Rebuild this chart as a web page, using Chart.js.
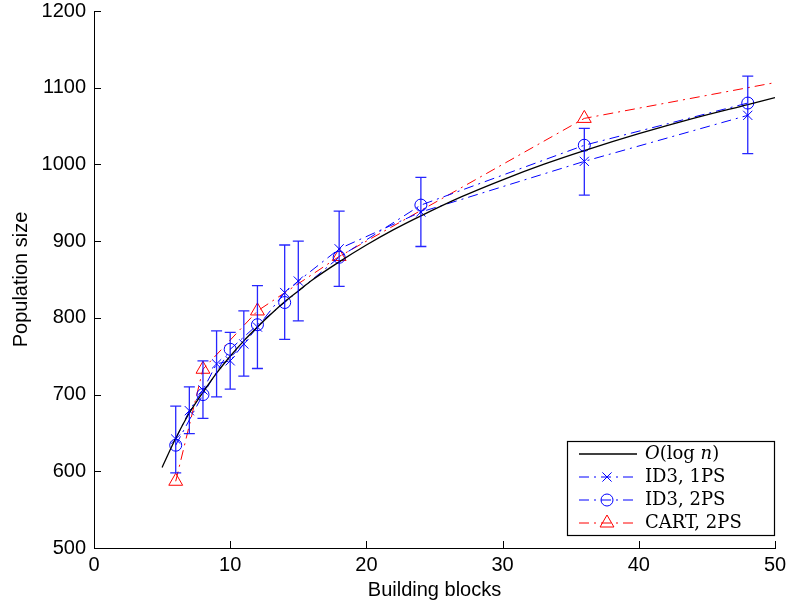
<!DOCTYPE html>
<html>
<head>
<meta charset="utf-8">
<script src="https://cdn.jsdelivr.net/npm/chart.js@4.4.0/dist/chart.umd.min.js"></script>
<style>
  html, body { margin: 0; padding: 0; background: #fff; }
  #wrap { width: 789px; height: 608px; }
</style>
</head>
<body>
<div id="wrap"><canvas id="myChart" width="789" height="608"></canvas></div>
<script>
// O(log n) reference curve
let logN   = [5, 6, 7, 8, 9, 10, 11, 12, 13, 14, 15, 16, 18, 20, 22, 24, 27, 30, 33, 36, 40, 44, 48, 50];
let logVal = [605, 643, 676, 703, 728, 750, 770, 788, 805, 821, 835, 849, 873, 895, 915, 933, 958, 980, 1000, 1018, 1040, 1060, 1078, 1087];

// ID3, 1PS with error bars
let id3oneN    = [6, 7, 8, 9, 10, 11, 12, 14, 15, 18, 24, 36, 48];
let id3oneVal  = [642, 679, 706, 740, 744, 766, 788, 833, 848, 890, 938, 1004, 1064];
let id3oneLow  = [598, 649, 669, 697, 707, 724, 734, 772, 796, 841, 893, 960, 1014];
let id3oneHigh = [685, 710, 744, 783, 781, 809, 842, 895, 900, 939, 983, 1047, 1115];

// ID3, 2PS
let id3twoN   = [6, 8, 10, 12, 14, 18, 24, 36, 48];
let id3twoVal = [634, 700, 759, 791, 820, 879, 947, 1025, 1080];

// CART, 2PS (last point lies past the right edge)
let cartN   = [6, 8, 12, 18, 36, 60];
let cartVal = [587, 733, 809, 880, 1060, 1140];

let xTicks = [0, 10, 20, 30, 40, 50];
let yTicks = [500, 600, 700, 800, 900, 1000, 1100, 1200];

let legendNames = ['O(log n)', 'ID3, 1PS', 'ID3, 2PS', 'CART, 2PS'];

const sans = 'Liberation Sans, Arial, sans-serif';
const serif = 'DejaVu Serif, serif';
const dashDot = [10, 5, 2, 5];

const toXY = (xs, ys) => xs.map((v, i) => ({x: v, y: ys[i]}));

function drawMarker(ctx, style, x, y, r) {
  ctx.beginPath();
  if (style === 'circle') {
    ctx.arc(x, y, r, 0, Math.PI * 2);
  } else if (style === 'crossRot') {
    const d = r * Math.SQRT1_2;
    ctx.moveTo(x - d, y - d); ctx.lineTo(x + d, y + d);
    ctx.moveTo(x - d, y + d); ctx.lineTo(x + d, y - d);
  } else if (style === 'triangle') {
    ctx.moveTo(x, y - r);
    ctx.lineTo(x + r * 0.866, y + r / 2);
    ctx.lineTo(x - r * 0.866, y + r / 2);
    ctx.closePath();
  }
  ctx.stroke();
}

const extras = {
  id: 'extras',
  afterDatasetsDraw(chart) {
    const {ctx, chartArea: a, scales: {x, y}} = chart;
    // error bars of ID3, 1PS
    ctx.save();
    ctx.beginPath();
    ctx.rect(a.left, a.top, a.right - a.left, a.bottom - a.top);
    ctx.clip();
    ctx.strokeStyle = 'rgba(0,0,255,0.85)';
    ctx.lineWidth = 1.3;
    id3oneN.forEach((n, i) => {
      const px = x.getPixelForValue(n);
      const lo = y.getPixelForValue(id3oneLow[i]);
      const hi = y.getPixelForValue(id3oneHigh[i]);
      ctx.beginPath();
      ctx.moveTo(px, lo); ctx.lineTo(px, hi);
      ctx.moveTo(px - 5.5, lo); ctx.lineTo(px + 5.5, lo);
      ctx.moveTo(px - 5.5, hi); ctx.lineTo(px + 5.5, hi);
      ctx.stroke();
    });
    ctx.restore();
  },
  afterDraw(chart) {
    const {ctx, chartArea: a, scales: {x, y}} = chart;
    ctx.save();
    // inward tick marks
    ctx.strokeStyle = '#000';
    ctx.lineWidth = 1;
    ctx.beginPath();
    xTicks.forEach(v => {
      const px = Math.round(x.getPixelForValue(v)) + 0.5;
      ctx.moveTo(px, a.bottom); ctx.lineTo(px, a.bottom - 7);
    });
    yTicks.forEach(v => {
      const py = Math.round(y.getPixelForValue(v)) + 0.5;
      ctx.moveTo(a.left, py); ctx.lineTo(a.left + 7, py);
    });
    ctx.stroke();

    // legend box
    const bx = a.right - 208, by = a.bottom - 107, bw = 207, bh = 94;
    ctx.fillStyle = '#fff';
    ctx.fillRect(bx, by, bw, bh);
    ctx.strokeStyle = '#000';
    ctx.lineWidth = 1.2;
    ctx.strokeRect(bx + 0.5, by + 0.5, bw, bh);

    const ds = chart.data.datasets;
    const rows = [ds[0], ds[1], ds[2], ds[3]];
    rows.forEach((d, i) => {
      const ry = by + 13 + i * 23;
      const x0 = bx + 12, x1 = bx + 70, xm = bx + 40;
      ctx.strokeStyle = d.borderColor;
      ctx.lineWidth = d.borderWidth;
      ctx.setLineDash(d.borderDash || []);
      ctx.beginPath();
      ctx.moveTo(x0, ry); ctx.lineTo(x1, ry);
      ctx.stroke();
      ctx.setLineDash([]);
      if (d.pointRadius > 0) {
        ctx.lineWidth = 1;
        drawMarker(ctx, d.pointStyle, xm, ry, d.pointRadius);
      }
      // label text
      ctx.fillStyle = '#000';
      ctx.textBaseline = 'middle';
      ctx.textAlign = 'left';
      let tx = bx + 78;
      if (i === 0) {
        const parts = [['O', 'italic'], ['(log ', 'normal'], ['n', 'italic'], [')', 'normal']];
        parts.forEach(p => {
          ctx.font = p[1] + ' 18px ' + serif;
          ctx.fillText(p[0], tx, ry);
          tx += ctx.measureText(p[0]).width;
        });
      } else {
        ctx.font = '18px ' + serif;
        ctx.fillText(legendNames[i], tx, ry);
      }
    });
    ctx.restore();
  }
};

new Chart(document.getElementById('myChart').getContext('2d'), {
  type: 'line',
  data: {
    datasets: [
      {
        label: legendNames[0],
        data: toXY(logN, logVal),
        borderColor: '#000',
        borderWidth: 1.3,
        pointRadius: 0,
        cubicInterpolationMode: 'monotone',
        order: 0
      },
      {
        label: legendNames[1],
        data: toXY(id3oneN, id3oneVal),
        borderColor: '#0000ff',
        borderWidth: 1,
        borderDash: dashDot,
        pointStyle: 'crossRot',
        pointRadius: 6.5,
        pointBorderWidth: 1,
        pointBorderColor: '#0000ff',
        pointBackgroundColor: 'rgba(0,0,0,0)',
        order: 1
      },
      {
        label: legendNames[2],
        data: toXY(id3twoN, id3twoVal),
        borderColor: '#0000ff',
        borderWidth: 1,
        borderDash: dashDot,
        pointStyle: 'circle',
        pointRadius: 6,
        pointBorderWidth: 1,
        pointBorderColor: '#0000ff',
        pointBackgroundColor: 'rgba(0,0,0,0)',
        order: 2
      },
      {
        label: legendNames[3],
        data: toXY(cartN, cartVal),
        borderColor: '#ff0000',
        borderWidth: 1,
        borderDash: dashDot,
        pointStyle: 'triangle',
        pointRadius: 8,
        pointBorderWidth: 1,
        pointBorderColor: '#ff0000',
        pointBackgroundColor: 'rgba(0,0,0,0)',
        order: 3
      }
    ]
  },
  options: {
    responsive: false,
    animation: false,
    events: [],
    layout: { padding: { top: 11, right: 14, left: 0, bottom: 0 } },
    plugins: {
      legend: { display: false },
      tooltip: { enabled: false }
    },
    elements: { line: { tension: 0 } },
    scales: {
      x: {
        type: 'linear',
        min: 0,
        max: 50,
        afterBuildTicks: s => { s.ticks = xTicks.map(v => ({value: v})); },
        afterFit: s => { s.height = 60; s.paddingLeft = 0; s.paddingRight = 0; },
        grid: { drawOnChartArea: false, drawTicks: false },
        border: { display: true, color: '#000', width: 1 },
        ticks: { padding: 5, color: '#000', font: { family: sans, size: 20 }, callback: v => String(v) },
        title: {
          display: true,
          text: 'Building blocks',
          color: '#000',
          font: { family: sans, size: 20 },
          padding: { top: 0, bottom: 6 }
        }
      },
      y: {
        type: 'linear',
        min: 500,
        max: 1200,
        afterBuildTicks: s => { s.ticks = yTicks.map(v => ({value: v})); },
        afterFit: s => { s.width = 94; s.paddingTop = 0; s.paddingBottom = 0; },
        grid: { drawOnChartArea: false, drawTicks: false },
        border: { display: true, color: '#000', width: 1 },
        ticks: { padding: 8, color: '#000', font: { family: sans, size: 20 }, callback: v => String(v) },
        title: {
          display: true,
          text: 'Population size',
          color: '#000',
          font: { family: sans, size: 20 },
          padding: { top: 9, bottom: 0 }
        }
      }
    }
  },
  plugins: [extras]
});
</script>
</body>
</html>
